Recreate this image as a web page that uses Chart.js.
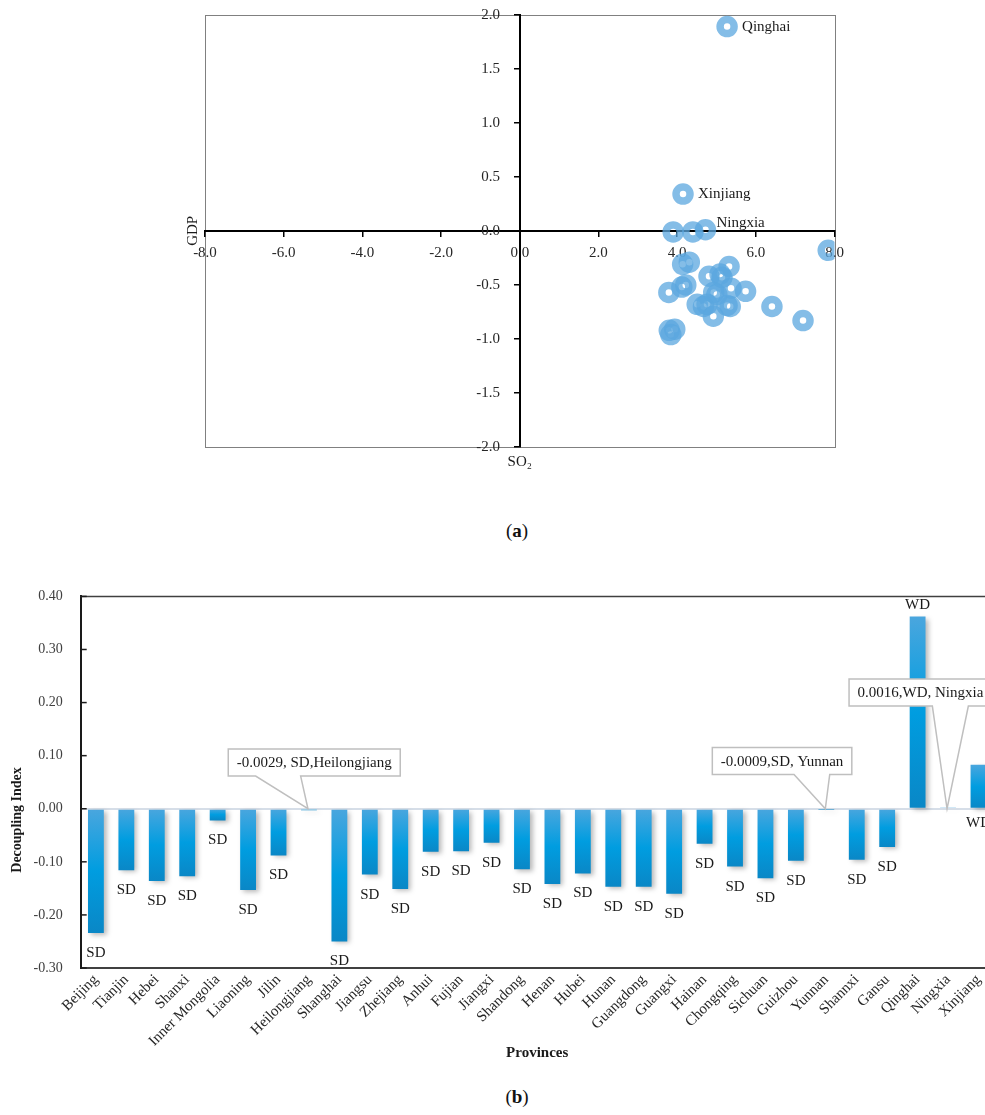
<!DOCTYPE html>
<html>
<head>
<meta charset="utf-8">
<script src="https://cdn.jsdelivr.net/npm/chart.js@4.4.1/dist/chart.umd.min.js"></script>
<style>
  html, body { margin: 0; padding: 0; background: #fff; }
  body { width: 985px; height: 1115px; position: relative; overflow: hidden; font-family: 'Liberation Serif', serif; }
  #scatter { position: absolute; left: 0; top: 0; }
  #bars { position: absolute; left: 0; top: 570px; }
  .cap { position: absolute; left: 467px; width: 100px; text-align: center; font-size: 19px; color: #111; }
</style>
</head>
<body>
<canvas id="scatter" width="985" height="480"></canvas>
<div class="cap" style="top:520px">(<b>a</b>)</div>
<canvas id="bars" width="1000" height="500"></canvas>
<div class="cap" style="top:1086px">(<b>b</b>)</div>
<script>
// (a) elasticity scatter
const so2Elasticity = [5.27, 4.15, 4.72, 3.90, 4.40, 7.84, 4.14, 4.31, 5.32, 4.81,
  5.09, 4.12, 3.79, 5.37, 5.74, 5.01, 4.51, 4.76, 5.27, 4.92,
  6.41, 7.20, 3.94, 3.84, 4.93, 4.67, 5.14, 4.22, 3.80, 5.35];
const gdpElasticity = [1.89, 0.34, 0.01, -0.01, -0.01, -0.18, -0.31, -0.29, -0.33, -0.42,
  -0.40, -0.52, -0.57, -0.53, -0.56, -0.59, -0.68, -0.68, -0.69, -0.79,
  -0.70, -0.83, -0.91, -0.96, -0.57, -0.70, -0.43, -0.50, -0.92, -0.70];
const pointNames = ['Qinghai', 'Xinjiang', 'Ningxia'];
const xTicks = ['-8.0', '-6.0', '-4.0', '-2.0', '0.0', '2.0', '4.0', '6.0', '8.0'];

// (b) decoupling index by province
const provinces = ['Beijing', 'Tianjin', 'Hebei', 'Shanxi', 'Inner Mongolia', 'Liaoning', 'Jilin',
  'Heilongjiang', 'Shanghai', 'Jiangsu', 'Zhejiang', 'Anhui', 'Fujian', 'Jiangxi', 'Shandong',
  'Henan', 'Hubei', 'Hunan', 'Guangdong', 'Guangxi', 'Hainan', 'Chongqing', 'Sichuan', 'Guizhou',
  'Yunnan', 'Shannxi', 'Gansu', 'Qinghai', 'Ningxia', 'Xinjiang'];
const decouplingIndex = [-0.234, -0.116, -0.136, -0.127, -0.022, -0.153, -0.088,
  -0.0029, -0.250, -0.124, -0.151, -0.081, -0.080, -0.064, -0.114,
  -0.142, -0.122, -0.147, -0.147, -0.160, -0.066, -0.109, -0.131, -0.098,
  -0.0009, -0.096, -0.072, 0.362, 0.0016, 0.083];
const decouplingState = ['SD', 'SD', 'SD', 'SD', 'SD', 'SD', 'SD',
  'SD', 'SD', 'SD', 'SD', 'SD', 'SD', 'SD', 'SD',
  'SD', 'SD', 'SD', 'SD', 'SD', 'SD', 'SD', 'SD', 'SD',
  'SD', 'SD', 'SD', 'WD', 'WD', 'WD'];
const calloutProvinces = ['Heilongjiang', 'Yunnan', 'Ningxia'];
const calloutTexts = ['-0.0029, SD,Heilongjiang', '-0.0009,SD, Yunnan', '0.0016,WD, Ningxia'];

Chart.defaults.font.family = "'Liberation Serif', serif";
Chart.defaults.color = '#262626';

const FONT = "15px 'Liberation Serif', serif";

// scales drawn across the middle should not reserve edge padding
const noPadding = (scale) => {
  scale.paddingTop = 0; scale.paddingBottom = 0;
  scale.paddingLeft = 0; scale.paddingRight = 0;
};

const scatterDecor = {
  id: 'scatterDecor',
  beforeDraw(chart) {
    const {ctx, chartArea: a} = chart;
    ctx.save();
    ctx.strokeStyle = '#808080';
    ctx.lineWidth = 1;
    ctx.strokeRect(Math.round(a.left) + 0.5, Math.round(a.top) + 0.5, Math.round(a.width), Math.round(a.height));
    ctx.restore();
  },
  afterDraw(chart) {
    const {ctx, chartArea: a} = chart;
    const meta = chart.getDatasetMeta(0);
    ctx.save();
    ctx.font = FONT;
    ctx.fillStyle = '#1a1a1a';
    ctx.textBaseline = 'middle';
    pointNames.forEach((name, i) => {
      const p = meta.data[i];
      const shift = name === 'Ningxia' ? [11, -7] : [15, 0];
      ctx.fillText(name, p.x + shift[0], p.y + shift[1]);
    });
    // axis titles
    const y0 = chart.scales.y.getPixelForValue(0);
    const x0 = chart.scales.x.getPixelForValue(0);
    ctx.textAlign = 'center';
    ctx.fillText('SO\u2082', x0, a.bottom + 15);
    ctx.translate(a.left - 12, y0);
    ctx.rotate(-Math.PI / 2);
    ctx.fillText('GDP', 0, 0);
    ctx.restore();
  }
};

new Chart(document.getElementById('scatter'), {
  type: 'scatter',
  data: {
    datasets: [{
      data: so2Elasticity.map((x, i) => ({x: x, y: gdpElasticity[i]})),
      pointStyle: 'circle',
      radius: 7,
      hoverRadius: 7,
      borderWidth: 7.5,
      borderColor: 'rgba(91,167,223,0.75)',
      backgroundColor: 'rgba(0,0,0,0)'
    }]
  },
  options: {
    responsive: false,
    animation: false,
    layout: {padding: {left: 205, right: 150.5, top: 14.7, bottom: 33}},
    plugins: {legend: {display: false}, tooltip: {enabled: false}},
    scales: {
      x: {
        type: 'linear',
        position: {y: 0},
        min: -8, max: 8,
        afterBuildTicks: (scale) => { scale.ticks = xTicks.map(t => ({value: parseFloat(t)})); },
        afterFit: noPadding,
        ticks: {callback: (v) => v.toFixed(1), font: {size: 15}, padding: 8, autoSkip: false, maxRotation: 0, color: '#262626'},
        grid: {drawOnChartArea: false, drawTicks: true, tickLength: 5, color: '#000', lineWidth: 1.5},
        border: {color: '#000', width: 2}
      },
      y: {
        type: 'linear',
        position: {x: 0},
        min: -2, max: 2,
        afterFit: noPadding,
        ticks: {display: false, stepSize: 0.5},
        grid: {drawOnChartArea: false, drawTicks: true, tickLength: 5, color: '#000', lineWidth: 1.5},
        border: {color: '#000', width: 2}
      },
      // tick labels of the GDP axis, set a little left of the axis line
      yLabels: {
        type: 'linear',
        axis: 'y',
        position: {x: -0.5},
        min: -2, max: 2,
        afterFit: noPadding,
        ticks: {stepSize: 0.5, callback: (v) => v.toFixed(1), font: {size: 15}, padding: 0, color: '#262626'},
        grid: {display: false},
        border: {display: false}
      }
    }
  },
  plugins: [scatterDecor]
});

// bar colours: light top, deep blue middle, darker bottom
function barGradient(context) {
  const chart = context.chart;
  if (!chart.chartArea) return '#0a9ade';
  const y = chart.scales.y;
  const v = decouplingIndex[context.dataIndex];
  const p0 = y.getPixelForValue(0), p1 = y.getPixelForValue(v);
  const top = Math.min(p0, p1), bottom = Math.max(p0, p1) + 0.01;
  const g = chart.ctx.createLinearGradient(0, top, 0, bottom);
  g.addColorStop(0, '#4aa6de');
  g.addColorStop(0.5, '#009de0');
  g.addColorStop(1, '#0a87c6');
  return g;
}

const calloutLayout = [
  {dx: -79.7, dy: -59.7, a: 27.4, b: 72.4},
  {dx: -113, dy: -61.3, a: 81.7, b: 117.4},
  {dx: -98, dy: -129.7, a: 83.3, b: 119.3}
];

const barDecor = {
  id: 'barDecor',
  beforeDatasetsDraw(chart) {
    const c = chart.ctx;
    c.save();
    c.shadowColor = 'rgba(0,0,0,0.28)';
    c.shadowBlur = 5;
    c.shadowOffsetX = 3;
    c.shadowOffsetY = 2;
  },
  afterDatasetsDraw(chart) {
    const ctx = chart.ctx;
    ctx.restore();
    const meta = chart.getDatasetMeta(0);
    const y0 = chart.scales.y.getPixelForValue(0);
    ctx.save();
    ctx.font = FONT;
    ctx.fillStyle = '#1a1a1a';
    ctx.textAlign = 'center';
    ctx.textBaseline = 'middle';
    decouplingIndex.forEach((v, i) => {
      if (calloutProvinces.includes(provinces[i])) return;
      const bar = meta.data[i];
      let ty;
      if (v < 0) ty = bar.y + 20;
      else if (provinces[i] === 'Xinjiang') ty = y0 + 14;
      else ty = bar.y - 12;
      ctx.fillText(decouplingState[i], bar.x, ty);
    });
    // callouts
    ctx.textAlign = 'left';
    calloutProvinces.forEach((name, k) => {
      const bar = meta.data[provinces.indexOf(name)];
      const L = calloutLayout[k];
      const tipX = bar.x - 1, tipY = y0;
      const w = ctx.measureText(calloutTexts[k]).width + 17;
      const h = 27;
      const left = tipX + L.dx, top = tipY + L.dy, bottom = top + h;
      ctx.beginPath();
      ctx.moveTo(left, top);
      ctx.lineTo(left + w, top);
      ctx.lineTo(left + w, bottom);
      ctx.lineTo(left + L.b, bottom);
      ctx.lineTo(tipX, tipY);
      ctx.lineTo(left + L.a, bottom);
      ctx.lineTo(left, bottom);
      ctx.closePath();
      ctx.fillStyle = '#fff';
      ctx.fill();
      ctx.strokeStyle = '#bfbfbf';
      ctx.lineWidth = 1.5;
      ctx.stroke();
      ctx.fillStyle = '#1a1a1a';
      ctx.fillText(calloutTexts[k], left + 8.5, top + h / 2 + 1);
    });
    ctx.restore();
  },
  afterDraw(chart) {
    const {ctx, chartArea: a} = chart;
    const ys = chart.scales.y;
    ctx.save();
    ctx.strokeStyle = '#404040';
    ctx.lineWidth = 1.5;
    ctx.beginPath();
    ctx.moveTo(a.left, a.top);
    ctx.lineTo(a.right, a.top);
    ctx.stroke();
    ctx.strokeStyle = '#1a1a1a';
    ys.ticks.forEach(t => {
      const py = ys.getPixelForValue(t.value);
      ctx.beginPath();
      ctx.moveTo(a.left, py);
      ctx.lineTo(a.left + 6, py);
      ctx.stroke();
    });
    ctx.font = "bold 14px 'Liberation Serif', serif";
    ctx.fillStyle = '#1a1a1a';
    ctx.textAlign = 'center';
    ctx.textBaseline = 'middle';
    ctx.translate(17, 250);
    ctx.rotate(-Math.PI / 2);
    ctx.fillText('Decoupling Index', 0, 0);
    ctx.restore();
  }
};

new Chart(document.getElementById('bars'), {
  type: 'bar',
  data: {
    labels: provinces,
    datasets: [{
      data: decouplingIndex,
      backgroundColor: barGradient,
      barPercentage: 0.52,
      categoryPercentage: 1,
      borderWidth: 0
    }]
  },
  options: {
    responsive: false,
    animation: false,
    layout: {padding: {left: 0, right: 6.3, top: 12.7, bottom: 0}},
    plugins: {legend: {display: false}, tooltip: {enabled: false}},
    scales: {
      x: {
        offset: true,
        grid: {display: true, drawOnChartArea: false, drawTicks: false},
        border: {color: '#404040', width: 2},
        ticks: {minRotation: 45, maxRotation: 45, autoSkip: false, font: {size: 15}, padding: 3, color: '#262626'},
        title: {display: true, text: 'Provinces', font: {size: 15, weight: 'bold'}, color: '#1a1a1a', padding: {top: 0, bottom: 8}},
        afterFit: (scale) => { scale.height = 102; }
      },
      y: {
        min: -0.3, max: 0.4,
        ticks: {stepSize: 0.1, callback: (v) => v.toFixed(2), font: {size: 14}, padding: 18, color: '#404040'},
        grid: {
          drawTicks: false,
          color: (c) => (c.tick && Math.abs(c.tick.value) < 1e-9 ? '#d6dee8' : 'rgba(0,0,0,0)'),
          lineWidth: 2
        },
        border: {color: '#1a1a1a', width: 2},
        afterFit: (scale) => { scale.width = 80.7; }
      }
    }
  },
  plugins: [barDecor]
});
</script>
</body>
</html>
